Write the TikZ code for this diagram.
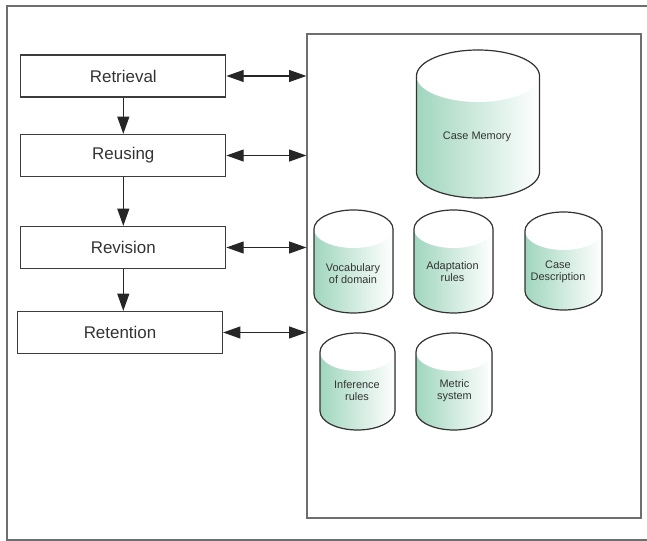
\documentclass[tikz,border=0pt]{standalone}
\usepackage{fontspec}
\setmainfont{Liberation Sans}
\usepackage{tikz}
\usetikzlibrary{arrows.meta,positioning}
\definecolor{linegray}{RGB}{60,60,60}
\definecolor{framegray}{RGB}{110,110,110}
\definecolor{cylgreen}{RGB}{160,214,190}
\tikzset{
    stage/.style = {rectangle, draw=linegray, line width=0.9pt, minimum width=153.75pt, minimum height=31.5pt, text=black!80, font=\fontsize{12.7}{14}\selectfont},
    membox/.style = {rectangle, draw=framegray, line width=0.9pt, minimum width=250.5pt, minimum height=363pt},
    dblabel/.style = {align=center, text=black!80, font=\fontsize{8.2}{9}\selectfont},
    arrow/.style = {line width=0.9pt, draw=black!85, -{Triangle[length=13pt,width=9pt]}},
    twoway/.style = {line width=0.9pt, draw=black!85, {Triangle[length=13pt,width=9pt]}-{Triangle[length=13pt,width=9pt]}},
    cylbody/.style = {left color=cylgreen, right color=white},
    cyledge/.style = {draw=black!80, line width=0.9pt}
}
% database cylinder: centre x, top y, bottom y, x radius, y radius (pixels)
\newcommand{\dbcyl}[5]{%
  \fill[cylbody] ({#1-#4},{-(#2+#5)}) -- ({#1-#4},{-(#3-#5)}) arc[start angle=180, end angle=360, x radius=#4, y radius=#5] -- ({#1+#4},{-(#2+#5)}) arc[start angle=0, end angle=180, x radius=#4, y radius=#5] -- cycle;
  \fill[white] (#1,{-(#2+#5)}) ellipse[x radius=#4, y radius=#5];
  \draw[cyledge] ({#1-#4},{-(#2+#5)}) -- ({#1-#4},{-(#3-#5)}) arc[start angle=180, end angle=360, x radius=#4, y radius=#5] -- ({#1+#4},{-(#2+#5)}) arc[start angle=0, end angle=180, x radius=#4, y radius=#5] -- cycle;
}
\begin{document}
\begin{tikzpicture}[x=0.75pt, y=0.75pt]
\useasboundingbox (0,0) rectangle (647,-541);
% outer frame
\draw[framegray, line width=0.8pt] (7,-6) rectangle (700,-540);

% stages of the cycle
\node (retrieval) [stage] at (123.3,-76) {Retrieval};
\node (reusing) [stage] at (123.3,-155.5) {Reusing};
\node (revision) [stage] at (123.3,-247.5) {Revision};
\node (retention) [stage] at (120,-332.5) {Retention};

% knowledge containers
\node (memory) [membox] at (474,-276) {};

\dbcyl{478}{50}{198}{61.5}{26}
\dbcyl{353.5}{210}{313}{39.5}{19}
\dbcyl{453.5}{210}{313}{39.5}{19}
\dbcyl{563.5}{212}{310}{38.5}{19}
\dbcyl{357.5}{333}{430}{37.5}{19}
\dbcyl{454}{333}{430}{38}{19}

\node (casemem) [dblabel] at (477,-137) {Case Memory};
\node (vocab) [dblabel] at (353,-274) {Vocabulary\\of domain};
\node (adapt) [dblabel] at (452.5,-272) {Adaptation\\rules};
\node (casedesc) [dblabel] at (558,-272) {Case\\Description};
\node (infer) [dblabel] at (357,-391) {Inference\\rules};
\node (metric) [dblabel] at (454.5,-391) {Metric\\system};

\draw [arrow] (retrieval) -- (reusing);
\draw [arrow] (reusing) -- (revision);
\draw [arrow] (revision.south) -- (revision.south |- retention.north);
\draw [twoway] (retrieval) -- (retrieval -| memory.west);
\draw [twoway] (reusing) -- (reusing -| memory.west);
\draw [twoway] (revision) -- (revision -| memory.west);
\draw [twoway] (retention) -- (retention -| memory.west);
\end{tikzpicture}
\end{document}
